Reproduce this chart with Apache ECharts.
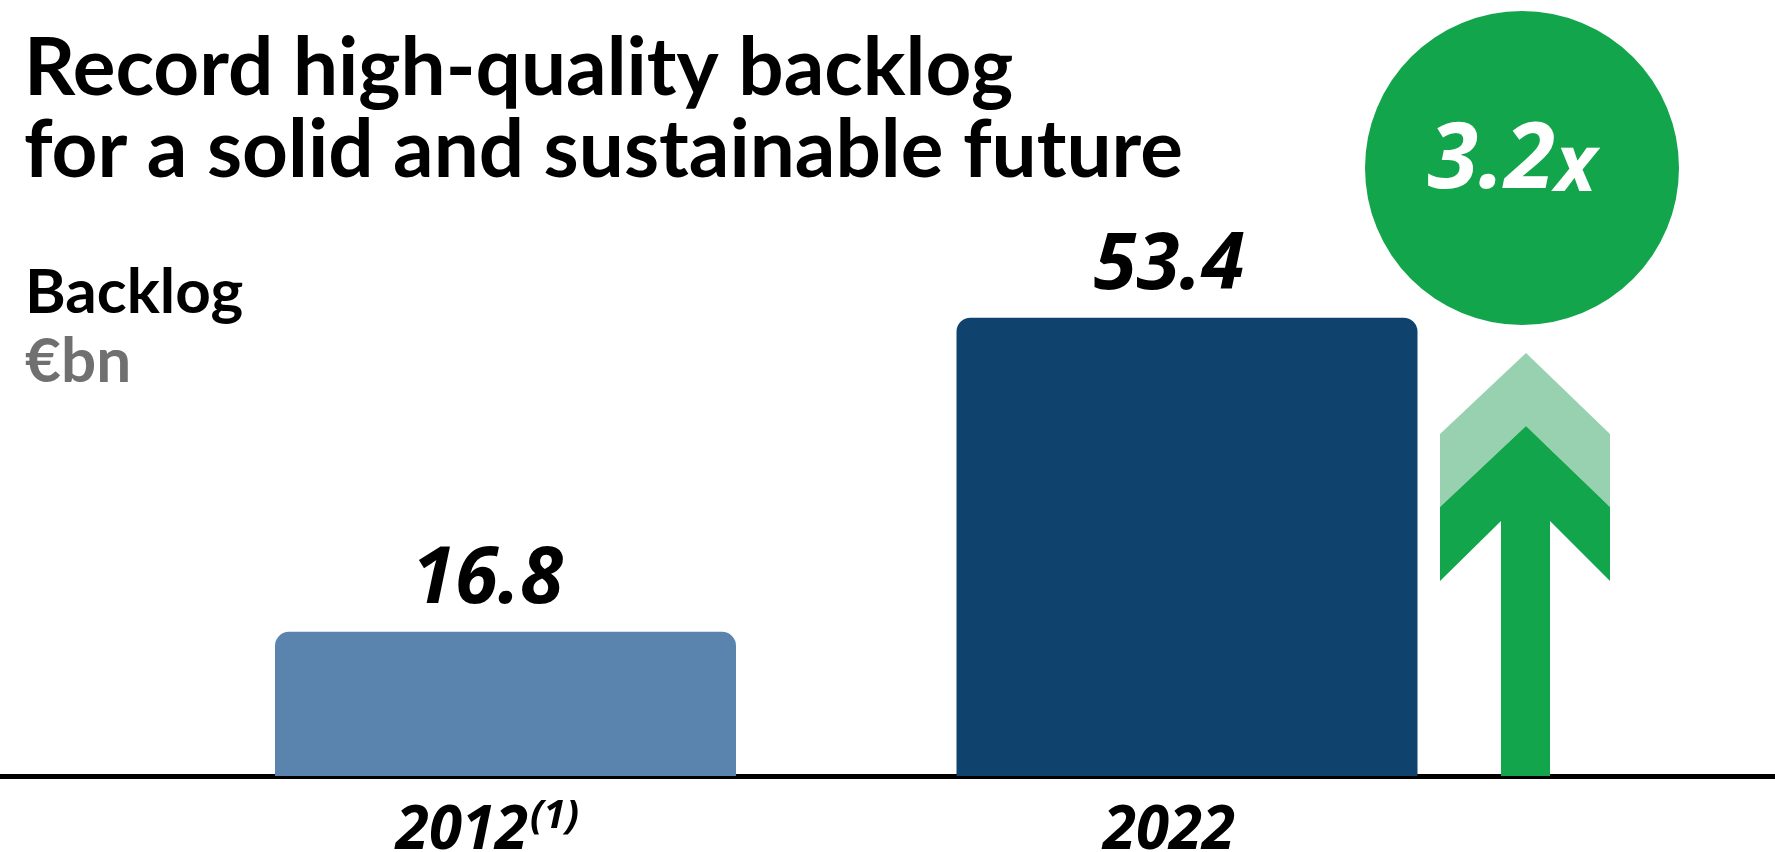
<!DOCTYPE html>
<html>
<head>
<meta charset="utf-8">
<script src="https://cdn.jsdelivr.net/npm/echarts@6/dist/echarts.min.js"></script>
<style>
  html, body { margin: 0; padding: 0; background: #ffffff; }
  #chart { width: 1775px; height: 852px; }
</style>
</head>
<body>
<div id="chart"></div>
<script>
// Backlog, €bn
const years = ['2012', '2022'];
const yearNotes = ['(1)', ''];
const backlog = [16.8, 53.4];
const barColors = ['#5A84AD', '#0F426C'];
const growthLabel = ['3.2', 'x'];

const titleFont = "Lato, 'Open Sans', sans-serif";
const numFont = "'Liberation Sans Narrow', 'Open Sans', sans-serif";
const green = '#13A54B';
const lightGreen = '#97D1B0';

const chart = echarts.init(document.getElementById('chart'), null, { renderer: 'canvas' });

chart.setOption({
  backgroundColor: '#ffffff',
  animation: false,
  title: [
    {
      text: 'Record high-quality backlog\nfor a solid and sustainable future',
      left: 19, top: 23,
      textStyle: { fontFamily: titleFont, fontWeight: 'bold', fontSize: 80, lineHeight: 82, color: '#000000' }
    },
    {
      text: 'Backlog',
      subtext: '€bn',
      left: 20, top: 257,
      itemGap: 7,
      textStyle: { fontFamily: titleFont, fontWeight: 'bold', fontSize: 62, lineHeight: 62, color: '#000000' },
      subtextStyle: { fontFamily: titleFont, fontWeight: 'bold', fontSize: 62, lineHeight: 62, color: '#707070' }
    }
  ],
  grid: [
    { left: 164.75, right: 247.25, top: 261, bottom: 76, outerBoundsMode: 'none' },
    { left: 0, right: 0, top: 261, bottom: 76, outerBoundsMode: 'none' }
  ],
  xAxis: [
    {
      type: 'category', gridIndex: 0,
      data: years,
      axisLine: { show: false }, axisTick: { show: false },
      axisLabel: {
        margin: 21,
        padding: [0, 36, 0, 0],
        formatter: (v, i) => '{y|' + v + '}' + (yearNotes[i] ? '{s|' + yearNotes[i] + '}' : ''),
        rich: {
          y: { fontFamily: numFont, fontWeight: 'bold', fontStyle: 'italic', fontSize: 60, lineHeight: 70, color: '#000000' },
          s: { fontFamily: numFont, fontWeight: 'bold', fontStyle: 'italic', fontSize: 40, color: '#000000', padding: [0, 0, 30, 2] }
        }
      }
    },
    {
      type: 'value', gridIndex: 1, min: 0, max: 1,
      axisLine: { show: true, onZero: false, lineStyle: { color: '#000000', width: 5 } },
      axisTick: { show: false }, axisLabel: { show: false }, splitLine: { show: false }
    }
  ],
  yAxis: [
    { type: 'value', gridIndex: 0, min: 0, max: 60, show: false },
    { type: 'value', gridIndex: 1, min: 0, max: 1, show: false }
  ],
  series: [
    {
      type: 'bar',
      xAxisIndex: 0, yAxisIndex: 0,
      barWidth: 461,
      data: backlog.map((v, i) => ({ value: v, itemStyle: { color: barColors[i] } })),
      itemStyle: { borderRadius: [14, 14, 0, 0] },
      label: {
        show: true, position: 'top', distance: 12, offset: [-18, 0],
        fontFamily: numFont, fontWeight: 'bold', fontStyle: 'italic', fontSize: 78, color: '#000000',
        formatter: p => p.value.toFixed(1)
      }
    }
  ],
  graphic: [
    { type: 'circle', shape: { cx: 1522, cy: 168, r: 157 }, style: { fill: green }, z: 10 },
    {
      type: 'text', x: 1512, y: 162, z: 11,
      style: {
        text: '{a|' + growthLabel[0] + '}{b|' + growthLabel[1] + '}',
        align: 'center', verticalAlign: 'middle',
        rich: {
          a: { fontFamily: "'Open Sans', sans-serif", fontWeight: 'bold', fontStyle: 'italic', fontSize: 92, fill: '#ffffff' },
          b: { fontFamily: "'Open Sans', sans-serif", fontWeight: 'bold', fontStyle: 'italic', fontSize: 78, fill: '#ffffff', verticalAlign: 'bottom' }
        }
      }
    },
    {
      type: 'polygon', z: 10,
      shape: { points: [[1440, 434], [1526, 353], [1610, 434], [1610, 507], [1526, 426], [1440, 507]] },
      style: { fill: lightGreen }
    },
    {
      type: 'polygon', z: 10,
      shape: { points: [[1440, 507], [1526, 426], [1610, 507], [1610, 581], [1550, 521], [1550, 776], [1501, 776], [1501, 521], [1440, 581]] },
      style: { fill: green }
    }
  ]
});
</script>
</body>
</html>
